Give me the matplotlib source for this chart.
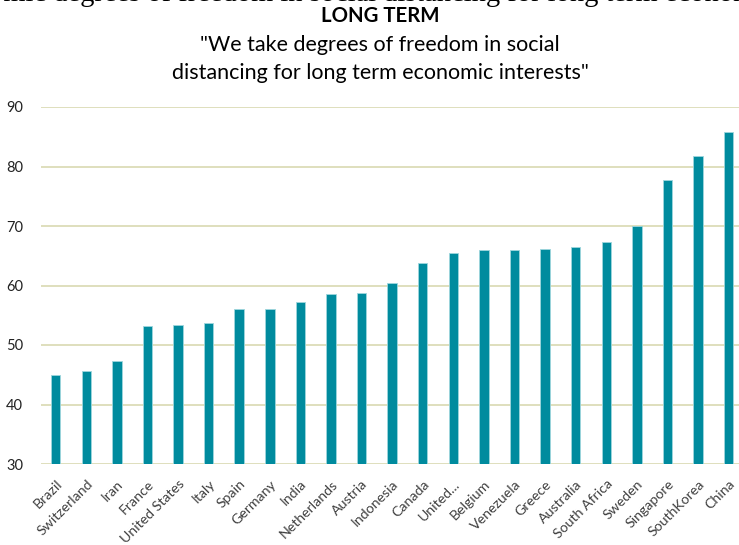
import matplotlib.pyplot as plt

countries = ['Brazil', 'Switzerland', 'Iran', 'France', 'United States', 'Italy',
             'Spain', 'Germany', 'India', 'Netherlands', 'Austria', 'Indonesia',
             'Canada', 'United...', 'Belgium', 'Venezuela', 'Greece', 'Australia',
             'South Africa', 'Sweden', 'Singapore', 'SouthKorea', 'China']
values = [45.0, 45.6, 47.3, 53.2, 53.3, 53.7, 56.0, 56.1, 57.3, 58.6, 58.8, 60.4,
          63.8, 65.4, 66.0, 66.0, 66.2, 66.5, 67.3, 70.0, 77.8, 81.8, 85.8]
y_ticks = [30, 40, 50, 60, 70, 80, 90]

plt.rcParams['font.family'] = ['Lato', 'DejaVu Sans']

W, H = 739, 545
fig = plt.figure(figsize=(W / 100, H / 100), dpi=100)
ax = fig.add_axes([41 / W, 1 - 464 / H, 1 - 41 / W, (464 - 107) / H])

x = range(len(countries))
ax.bar(x, [v - 30 for v in values], width=0.31, bottom=30, color='#008B9E',
       edgecolor='#9FD6DD', linewidth=0.6, zorder=3)

ax.set_ylim(30, 90)
ax.set_xlim(-0.48, 22.34)
ax.set_yticks(y_ticks)
ax.yaxis.grid(True, color='#DCDCB8', linewidth=1.3, zorder=0)
ax.set_xticks(list(x))
ax.set_xticklabels(countries, rotation=45, ha='right', rotation_mode='anchor',
                   fontsize=10.2, color='#404040')
ax.tick_params(axis='x', length=0, pad=10)
ax.tick_params(axis='y', length=0, pad=13, labelsize=10.5, labelcolor='#222222')
for s in ax.spines.values():
    s.set_visible(False)

# cropped line of text from the slide above the chart: only its lower edge shows
line = 'economic degrees of freedom in social distancing for long term economic interests'
prefix = 'economic de'
renderer = fig.canvas.get_renderer()
tmp = fig.text(0, 0, prefix, family='Liberation Serif', fontsize=20.5)
shift = tmp.get_window_extent(renderer).width
tmp.remove()
fig.text((80 - shift) / W, 1 - 1 / H, line, family='Liberation Serif', fontsize=20.5,
         va='baseline', ha='left')

cx = 380 / W
fig.text(cx, 1 - 16 / H, 'LONG TERM', ha='center', va='center',
         fontsize=14.7, fontweight='bold')
fig.text(cx, 1 - 45 / H, '"We take degrees of freedom in social', ha='center',
         va='center', fontsize=15.5)
fig.text(cx, 1 - 73 / H, 'distancing for long term economic interests"', ha='center',
         va='center', fontsize=15.5)

fig.savefig('out.png', dpi=100)
